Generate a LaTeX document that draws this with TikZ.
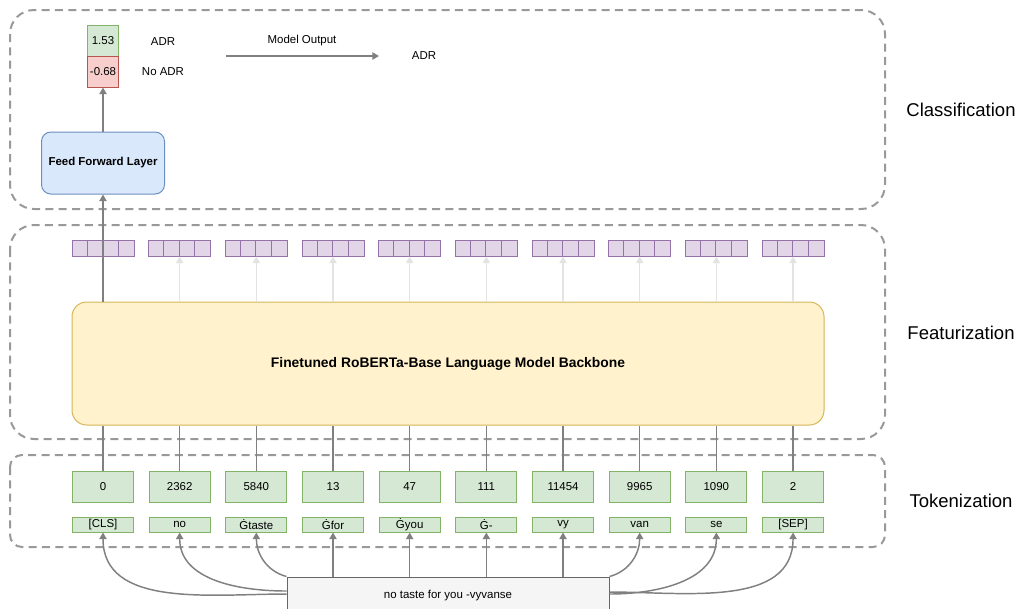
\documentclass[tikz,border=0pt]{standalone}
\usepackage{fontspec}
\setmainfont{Liberation Sans}
\usetikzlibrary{arrows.meta}
\definecolor{gfill}{HTML}{D5E8D4}\definecolor{gline}{HTML}{82B366}
\definecolor{rfill}{HTML}{F8CECC}\definecolor{rline}{HTML}{B85450}
\definecolor{pfill}{HTML}{E1D5E7}\definecolor{pline}{HTML}{9673A6}
\definecolor{yfill}{HTML}{FFF2CC}\definecolor{yline}{HTML}{D6B656}
\definecolor{bfill}{HTML}{DAE8FC}\definecolor{bline}{HTML}{6C8EBF}
\definecolor{infill}{HTML}{F5F5F5}\definecolor{inline}{HTML}{666666}
\definecolor{frame}{HTML}{999999}
\definecolor{conn}{HTML}{808080}
\definecolor{faint}{HTML}{E3E3E3}
\tikzset{
  small/.style={font=\fontsize{8.6}{10}\selectfont},
  stage/.style={font=\fontsize{13.9}{16}\selectfont, anchor=center},
  stageframe/.style={draw=frame, line width=1.5pt, dash pattern=on 6pt off 4pt, rounded corners=18pt},
  idbox/.style={draw=gline, fill=gfill, line width=0.75pt, minimum width=45.75pt, minimum height=23.25pt, inner sep=0pt, small},
  tokbox/.style={draw=gline, fill=gfill, line width=0.75pt, minimum width=45.75pt, minimum height=11.25pt, inner sep=0pt, small},
  vecbox/.style={draw=pline, fill=pfill, line width=0.75pt, minimum width=46.5pt, minimum height=12pt, inner sep=0pt},
  link/.style={draw=conn, line width=1.1pt},
  arrow/.style={link, -{Triangle[width=5.5pt,length=5pt]}},
  faintarrow/.style={draw=faint, line width=1.1pt, -{Triangle[width=5.5pt,length=5pt]}},
}
\begin{document}
\begin{tikzpicture}[x=0.75pt,y=-0.75pt]
\useasboundingbox (0,0) rectangle (1019,608);
\clip (0,0) rectangle (1019,608);

% stage frames
\draw[stageframe] (10,10) rectangle (885,209);
\draw[stageframe] (10,225) rectangle (885,439);
\draw[stageframe, rounded corners=9pt] (10,455) rectangle (885,547);
\node[stage] (lblcls) at (961,110) {Classification};
\node[stage] (lblfeat) at (961,333) {Featurization};
\node[stage] (lbltok) at (961,501) {Tokenization};

% backbone
\node[draw=yline, fill=yfill, line width=0.75pt, rounded corners=11pt,
      minimum width=564pt, minimum height=92.25pt, inner sep=0pt,
      font=\fontsize{10.4}{12}\selectfont\bfseries] (bb) at (448,363.5)
      {Finetuned RoBERTa-Base Language Model Backbone};

% classification head
\node[draw=bline, fill=bfill, line width=0.75pt, rounded corners=7pt,
      minimum width=92.25pt, minimum height=46.5pt, inner sep=0pt,
      font=\fontsize{8.6}{10}\selectfont\bfseries] (ffl) at (103,163) {Feed Forward Layer};
\node[draw=gline, fill=gfill, line width=0.75pt, minimum size=23.25pt, inner sep=0pt, small] (pos) at (103,40.5) {1.53};
\node[draw=rline, fill=rfill, line width=0.75pt, minimum size=23.25pt, inner sep=0pt, small] (neg) at (103,71.5) {-0.68};
\node[small] (lpos) at (163,42) {ADR};
\node[small] (lneg) at (163,72) {No ADR};
\coordinate (mo1) at (226,56);
\coordinate (mo2) at (379,56);
\draw[arrow] (mo1) -- (mo2);
\node[small] (molbl) at (302,41) {Model Output};
\node[small] (pred) at (424,56) {ADR};
\draw[arrow] (ffl.north) -- (neg.south);

% token columns
\foreach \i/\n/\t in {0/0/{[CLS]},1/2362/no,2/5840/Ġtaste,3/13/Ġfor,4/47/Ġyou,
                      5/111/Ġ-,6/11454/vy,7/9965/van,8/1090/se,9/2/{[SEP]}}{
  \pgfmathsetmacro{\cx}{103+76.67*\i}
  \node[idbox] (id\i) at (\cx,486.5) {\n};
  \node[tokbox] (tok\i) at (\cx,524.5) {\t};
  \node[vecbox] (vec\i) at (\cx,248) {};
  \foreach \k in {1,2,3}
    \draw[pline, line width=0.75pt] ([xshift=\k*11.625pt]vec\i.north west) -- ([xshift=\k*11.625pt]vec\i.south west);
  \draw[link] (id\i.north) -- (id\i.north |- bb.south);
}
\foreach \i in {1,...,9}
  \draw[faintarrow] (vec\i.south |- bb.north) -- (vec\i.south);
\draw[arrow] (ffl.south |- bb.north) -- (ffl.south);

% input text and its split into tokens
\node[draw=inline, fill=infill, line width=0.75pt, minimum width=241.5pt, minimum height=30pt,
      inner sep=0pt, small, text depth=4.5pt] (inp) at (448,597) {no taste for you -vyvanse};
\coordinate (inL1) at (inp.west |- 0,594);
\coordinate (inL2) at (inp.west |- 0,591);
\coordinate (inL3) at (inp.north west);
\coordinate (inR1) at (inp.north east);
\coordinate (inR2) at (inp.east |- 0,594);
\coordinate (inR3) at (inp.east |- 0,592);
\draw[arrow] (inL1) to[out=180,in=-90] (tok0.south);
\draw[arrow] (inL2) to[out=180,in=-90] (tok1.south);
\draw[arrow] (inL3) to[out=165,in=-90] (tok2.south);
\foreach \i in {3,4,5,6}
  \draw[arrow] (tok\i.south |- inp.north) -- (tok\i.south);
\draw[arrow] (inR1) to[out=15,in=-90] (tok7.south);
\draw[arrow] (inR2) to[out=0,in=-90] (tok8.south);
\draw[arrow] (inR3) to[out=0,in=-90] (tok9.south);
\end{tikzpicture}
\end{document}
